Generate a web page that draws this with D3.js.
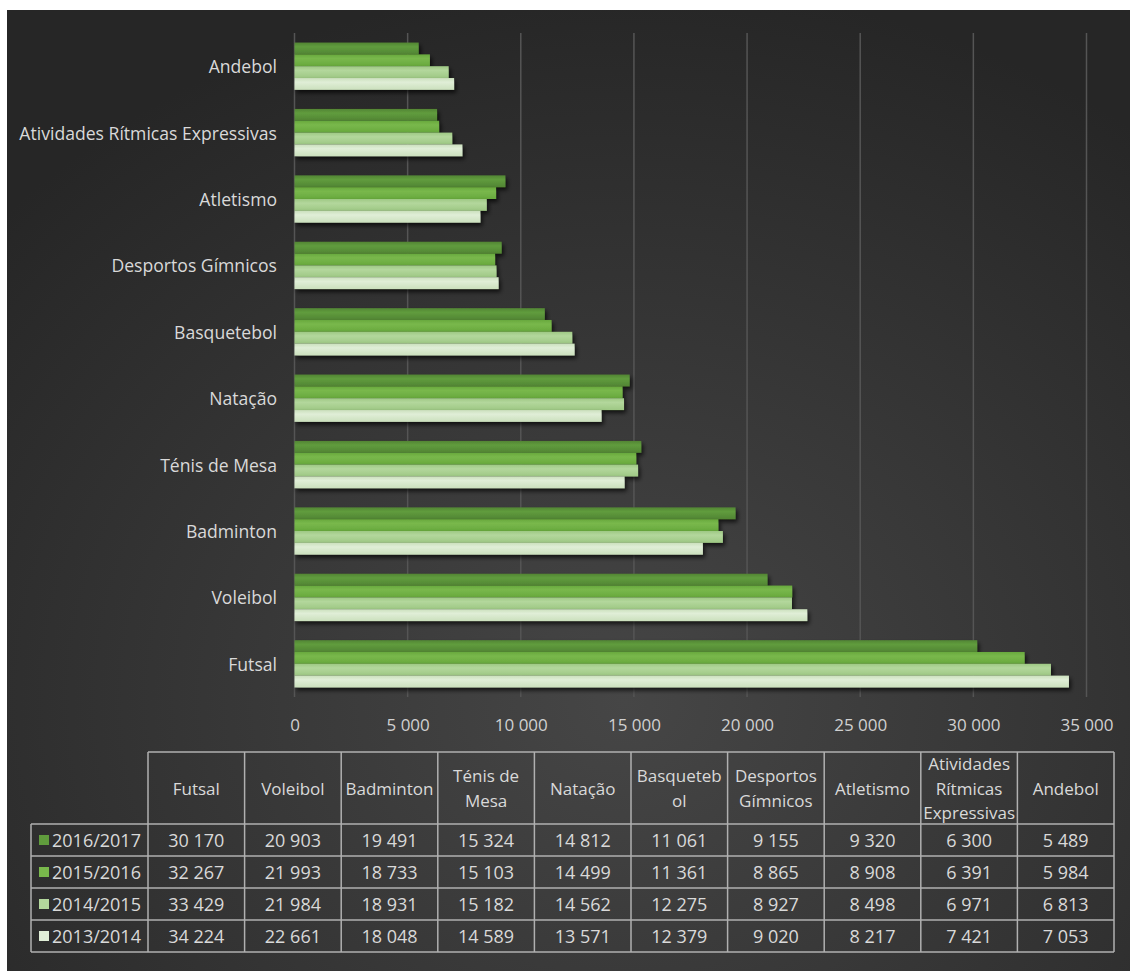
<!DOCTYPE html>
<html><head><meta charset="utf-8">
<script src="https://cdn.jsdelivr.net/npm/d3@7"></script>
<style>
html,body{margin:0;padding:0;background:#fff;}
svg{display:block;}
text{font-family:"Open Sans","Noto Sans",sans-serif;}
</style></head>
<body>
<svg id="chart" width="1130" height="971"></svg>
<script>
// ---- data ----
const categories = ["Futsal","Voleibol","Badminton","Ténis de Mesa","Natação","Basquetebol","Desportos Gímnicos","Atletismo","Atividades Rítmicas Expressivas","Andebol"];
const tableHeaders = [["Futsal"],["Voleibol"],["Badminton"],["Ténis de","Mesa"],["Natação"],["Basqueteb","ol"],["Desportos","Gímnicos"],["Atletismo"],["Atividades","Rítmicas","Expressivas"],["Andebol"]];
const seriesNames = ["2016/2017","2015/2016","2014/2015","2013/2014"];
const s2016_2017 = [30170,20903,19491,15324,14812,11061,9155,9320,6300,5489];
const s2015_2016 = [32267,21993,18733,15103,14499,11361,8865,8908,6391,5984];
const s2014_2015 = [33429,21984,18931,15182,14562,12275,8927,8498,6971,6813];
const s2013_2014 = [34224,22661,18048,14589,13571,12379,9020,8217,7421,7053];
const seriesValues = [s2016_2017,s2015_2016,s2014_2015,s2013_2014];
const xTicks = [0,5000,10000,15000,20000,25000,30000,35000];
const seriesColors = [["#609c3d","#528534"],["#79b84c","#68a93d"],["#b3d79c","#9ec884"],["#e0eed7","#cbe0bd"]];

const locale = d3.formatLocale({decimal:",",thousands:" ",grouping:[3],currency:["","€"]});
const fmt = locale.format(",d");

const svg = d3.select("#chart");
const defs = svg.append("defs");

// background gradient
const bg = defs.append("radialGradient").attr("id","bg")
  .attr("cx","55%").attr("cy","72%").attr("r","75%");
bg.append("stop").attr("offset","0%").attr("stop-color","#464646");
bg.append("stop").attr("offset","100%").attr("stop-color","#262626");

seriesColors.forEach((c,i)=>{
  const g = defs.append("linearGradient").attr("id","bar"+i).attr("x1",0).attr("x2",0).attr("y1",0).attr("y2",1);
  g.append("stop").attr("offset","0%").attr("stop-color",c[1]);
  g.append("stop").attr("offset","35%").attr("stop-color",c[0]);
  g.append("stop").attr("offset","100%").attr("stop-color",c[1]);
});
const f = defs.append("filter").attr("id","shadow").attr("x","-5%").attr("y","-40%").attr("width","115%").attr("height","200%");
f.append("feDropShadow").attr("dx",2).attr("dy",3).attr("stdDeviation",2).attr("flood-color","#000").attr("flood-opacity",0.7);

svg.append("rect").attr("x",7).attr("y",10).attr("width",1123).attr("height",961).attr("fill","url(#bg)");

// scales
const x = d3.scaleLinear().domain([0,35000]).range([294.5,1086.5]);
const y = d3.scaleBand().domain(categories.slice().reverse()).range([33,697]).paddingInner(0.2877).paddingOuter(0.14385);
const ys = d3.scaleBand().domain(seriesNames).range([0,y.bandwidth()]);

// gridlines
svg.append("g").selectAll("line").data(xTicks).join("line")
  .attr("x1",d=>x(d)).attr("x2",d=>x(d)).attr("y1",33).attr("y2",697)
  .attr("stroke","#555").attr("stroke-width",1.5);

// bars
const groups = svg.append("g").selectAll("g").data(categories).join("g")
  .attr("transform",d=>`translate(0,${y(d)})`);
groups.each(function(cat,ci){
  d3.select(this).selectAll("rect").data(seriesNames).join("rect")
    .attr("x",x(0)).attr("y",s=>ys(s))
    .attr("width",(s,si)=>x(seriesValues[si][ci])-x(0))
    .attr("height",ys.bandwidth())
    .attr("fill",(s,si)=>`url(#bar${si})`)
    .attr("filter","url(#shadow)");
});

// category labels
svg.append("g").selectAll("text").data(categories).join("text")
  .attr("x",277).attr("y",d=>y(d)+y.bandwidth()/2)
  .attr("text-anchor","end").attr("dominant-baseline","central")
  .attr("fill","#d9d9d9").attr("font-size",17.6).text(d=>d);

// x axis labels
const xAxis = d3.axisBottom(x).tickValues(xTicks).tickFormat(fmt).tickSize(0).tickPadding(0);
const ax = svg.append("g").attr("transform","translate(0,724.5)").call(xAxis);
ax.select(".domain").remove();
ax.selectAll("text").attr("fill","#d0d0d0").attr("font-size",17).attr("font-family","'Open Sans',sans-serif")
  .attr("dy",null).attr("dominant-baseline","central");

// ---- data table ----
const tx = d3.scaleBand().domain(categories).range([148,1114]);
const headTop = 752, headBot = 824;
const ty = d3.scaleBand().domain(seriesNames).range([824,952]);
const legLeft = 31;
const tbl = svg.append("g");
const lineC = "#b0b0b0";
const colEdges = categories.map(c=>tx(c)).concat([1114]);
tbl.selectAll("line.v").data(colEdges).join("line").attr("class","v")
  .attr("x1",d=>d).attr("x2",d=>d).attr("y1",headTop).attr("y2",952)
  .attr("stroke",lineC).attr("stroke-width",1.5);
tbl.append("line").attr("x1",148).attr("x2",1114).attr("y1",headTop).attr("y2",headTop).attr("stroke",lineC).attr("stroke-width",1.5);
const rowEdges = seriesNames.map(s=>ty(s)).concat([952]);
tbl.selectAll("line.h").data(rowEdges).join("line").attr("class","h")
  .attr("x1",legLeft).attr("x2",1114).attr("y1",d=>d).attr("y2",d=>d)
  .attr("stroke",lineC).attr("stroke-width",1.5);
tbl.append("line").attr("x1",legLeft).attr("x2",legLeft).attr("y1",824).attr("y2",952).attr("stroke",lineC).attr("stroke-width",1.5);

// header text
const lh = 24.5;
tbl.selectAll("text.hd").data(tableHeaders).join("text").attr("class","hd")
  .attr("fill","#d9d9d9").attr("font-size",17).attr("text-anchor","middle")
  .each(function(lines,i){
    const cx = tx(categories[i])+tx.bandwidth()/2;
    const cy = (headTop+headBot)/2 - (lines.length-1)*lh/2;
    d3.select(this).selectAll("tspan").data(lines).join("tspan")
      .attr("x",cx).attr("y",(l,j)=>cy+j*lh).attr("dominant-baseline","central").text(l=>l);
  });

// legend cells
const leg = tbl.selectAll("g.leg").data(seriesNames).join("g").attr("class","leg")
  .attr("transform",s=>`translate(0,${ty(s)+ty.bandwidth()/2})`);
leg.append("rect").attr("x",39).attr("y",-5).attr("width",10).attr("height",10)
  .attr("fill",(s,i)=>seriesColors[i][0]);
leg.append("text").attr("x",52).attr("dominant-baseline","central")
  .attr("fill","#d9d9d9").attr("font-size",18).text(s=>s);

// values
seriesNames.forEach((s,si)=>{
  tbl.append("g").selectAll("text").data(categories).join("text")
    .attr("x",c=>tx(c)+tx.bandwidth()/2).attr("y",ty(s)+ty.bandwidth()/2)
    .attr("text-anchor","middle").attr("dominant-baseline","central")
    .attr("fill","#d9d9d9").attr("font-size",18)
    .text((c,ci)=>fmt(seriesValues[si][ci]));
});
</script>
</body></html>
